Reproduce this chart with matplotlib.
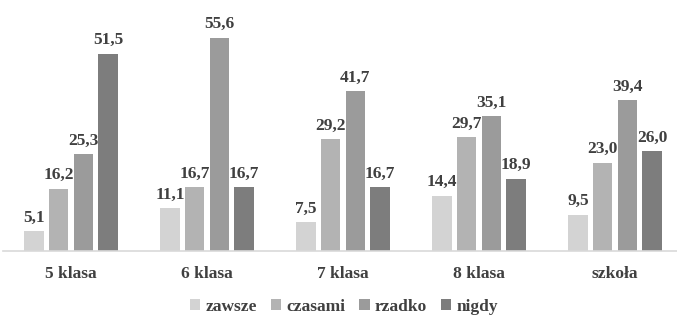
import matplotlib
matplotlib.use("Agg")
import matplotlib.pyplot as plt
import numpy as np

categories = ["5 klasa", "6 klasa", "7 klasa", "8 klasa", "szkoła"]
series_names = ["zawsze", "czasami", "rzadko", "nigdy"]
zawsze = [5.1, 11.1, 7.5, 14.4, 9.5]
czasami = [16.2, 16.7, 29.2, 29.7, 23.0]
rzadko = [25.3, 55.6, 41.7, 35.1, 39.4]
nigdy = [51.5, 16.7, 16.7, 18.9, 26.0]

colors = ["#d3d3d3", "#b3b3b3", "#9b9b9b", "#7d7d7d"]
text_color = "#404040"

plt.rcParams["font.family"] = ["Liberation Serif", "DejaVu Serif"]
plt.rcParams["font.weight"] = "bold"

fig = plt.figure(figsize=(6.77, 3.15), dpi=100)
ax = fig.add_axes([3 / 677, 64 / 315, 680 / 677, 230 / 315])

x = np.arange(len(categories))
step = 0.182
width = 0.145
all_series = [zawsze, czasami, rzadko, nigdy]

for i, (name, vals) in enumerate(zip(series_names, all_series)):
    pos = x + (i - 1.5) * step
    bars = ax.bar(pos, vals, width, color=colors[i], label=name)
    for xb, v in zip(pos, vals):
        ax.annotate(f"{v:.1f}".replace(".", ","), (xb, v),
                    xytext=(0, 4), textcoords="offset points",
                    ha="center", va="bottom", fontsize=12.5,
                    fontweight="bold", color=text_color)

ax.set_xlim(-0.5, len(categories) - 0.5)
ax.set_ylim(0, 60)
ax.set_xticks(x)
ax.set_xticklabels(categories, fontsize=12.5, fontweight="bold", color=text_color)
ax.tick_params(axis="x", length=0, pad=11)
ax.set_yticks([])
for side in ["top", "right", "left"]:
    ax.spines[side].set_visible(False)
ax.spines["bottom"].set_color("#d9d9d9")
ax.spines["bottom"].set_linewidth(1.2)

leg = fig.legend(loc="center", bbox_to_anchor=(0.508, 0.026), ncol=4,
                 frameon=False, fontsize=12.5, handlelength=0.6, handleheight=0.6,
                 handletextpad=0.3, columnspacing=0.8)
for t in leg.get_texts():
    t.set_color(text_color)
    t.set_fontweight("bold")

fig.savefig("out.png", dpi=100)
